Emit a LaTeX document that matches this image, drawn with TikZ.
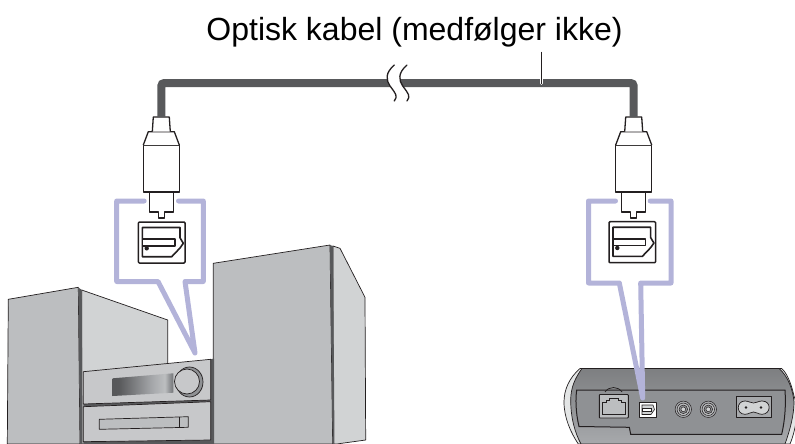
\documentclass[tikz,border=0pt]{standalone}
\usepackage{fontspec}
\setmainfont{Liberation Sans}
\definecolor{cabgrey}{HTML}{58595B}
\definecolor{callout}{HTML}{B3B3D9}
\definecolor{spkfront}{HTML}{BCBEC0}
\definecolor{spkside}{HTML}{D1D3D4}
\definecolor{ampface}{HTML}{C7C8CA}
\definecolor{inkk}{HTML}{231F20}
\definecolor{devbody}{HTML}{A7A9AC}
\definecolor{devpanel}{HTML}{8F9194}
\pgfdeclarehorizontalshading{displayshade}{100bp}{
  color(0bp)=(cabgrey!90!black); color(30bp)=(cabgrey); color(58bp)=(devbody); color(68bp)=(spkfront); color(72bp)=(devpanel); color(78bp)=(cabgrey); color(100bp)=(cabgrey)}
\tikzset{
  x=1pt,y=-1pt,
  ink/.style={draw=inkk,line width=1.3pt,line join=round},
  thin ink/.style={draw=inkk,line width=.7pt,line join=round},
  cable/.style={draw=cabgrey,line width=8pt,rounded corners=3pt},
  bubble/.style={draw=callout,line width=5pt,line join=round,line cap=round},
  captionstyle/.style={font=\fontsize{32}{34}\selectfont,text=black,inner sep=0pt,anchor=base},
  plugpic/.pic={
    \coordinate (-top) at (0,117);
    \path[ink,fill=white] (-12,192) -- (-12,212) -- (-3,212) -- (-3,218) -- (3,218) -- (3,212) -- (12,212) -- (12,192) -- cycle;
    \path[ink,fill=white] (-18,145) -- (-18,192) -- (18,192) -- (18,145) -- cycle;
    \path[ink,fill=white] (-18,145) -- (-13,131.7) -- (13,131.7) -- (18,145);
    \path[ink,fill=white] (-9,131.7) -- (-8,117) -- (8,117) -- (9,131.7);
  },
  portpic/.pic={
    \path[ink,line width=1.5pt,fill=white,rounded corners=1pt] (-23.3,-20.5) rectangle (23.3,20.5);
    \path[ink,line width=1.6pt] (-19.3,-15) -- (18.3,-15) -- (18.3,-4.7) -- (21.6,.8) -- (18.3,5.5) -- (10,14.2) -- (-19.3,14.2) -- cycle;
    \path[ink,line width=1.6pt,fill=white] (-19.3,-3.5) rectangle (13.3,3.2);
    \fill[inkk] (-15,5.8) circle (2.2);
  },
}
\begin{document}
\begin{tikzpicture}
\useasboundingbox (0,0) rectangle (795,444);
\clip (0,0) rectangle (795,444);

% caption and cable
\node[captionstyle] (caption) at (414.5,40.5) {Optisk kabel (medfølger ikke)};
\coordinate (kink) at (400,83);
\coordinate (leadtop) at (541.7,52.5);
\coordinate (leadend) at (541.7,83.5);

\coordinate (plugLpos) at (161.3,0);
\coordinate (plugRpos) at (633.7,0);
\pic (plugL) at (plugLpos) {plugpic};
\pic (plugR) at (plugRpos) {plugpic};
\draw[cable] (plugL-top) |- (kink) -| (plugR-top);
\draw[white,line width=2.8pt,line cap=round] (leadtop|-0,78) -- (leadend);
\draw[ink,line cap=round] (leadtop) -- (leadend);

% break mark
\fill[white] (394.3,65) .. controls (385,73) and (386,80) .. (390,86) .. controls (396,94) and (398,96) .. (394.3,101)
  -- (407,101) .. controls (410.7,96) and (408.7,94) .. (402.7,86) .. controls (398.7,80) and (397.7,73) .. (407,65) -- cycle;
\draw[ink,line cap=round] (394.3,65) .. controls (385,73) and (386,80) .. (390,86) .. controls (396,94) and (398,96) .. (394.3,101);
\draw[ink,line cap=round] (407,65) .. controls (397.7,73) and (398.7,80) .. (402.7,86) .. controls (408.7,94) and (410.7,96) .. (407,101);

% left speaker
\path[thin ink,fill=spkside] (81.7,290) -- (167.7,320) -- (167.7,368) -- (100,444) -- (81.7,444) -- cycle;
\path[thin ink,fill=spkfront] (8.3,299.3) -- (78.3,287.3) -- (80,444) -- (7.3,444) -- cycle;
\fill[cabgrey] (78.3,287.3) -- (81.7,290) -- (82.5,444) -- (80,444) -- cycle;

% right speaker
\path[thin ink,fill=spkside] (333,246) -- (340,248.3) -- (365,297.3) -- (365.7,440) -- (336.7,444) -- (333,444) -- cycle;
\path[thin ink,fill=spkfront] (213.3,263.3) -- (330,245) -- (332.7,444) -- (213.3,444) -- cycle;
\fill[cabgrey] (330,245) -- (333,246) -- (334.5,444) -- (332.7,444) -- cycle;

% amplifier
\fill[cabgrey] (210.7,359.3) -- (214,358.5) -- (214,444) -- (83.3,444) -- (83.3,404) -- cycle;
\path[thin ink,fill=ampface] (83.3,371.7) -- (210.7,359.3) -- (210.7,400) -- (83.3,404) -- cycle;
\path[thin ink,fill=ampface] (83.3,406.7) -- (210.7,401.7) -- (210.7,440) -- (83.3,441.7) -- cycle;
\path[shading=displayshade] (112.7,378.3) -- (173.3,373.3) -- (173.3,392.7) -- (112.7,396) -- cycle;
\path[thin ink,fill=devpanel] (189.5,382) ellipse [x radius=13.5,y radius=15];
\path[thin ink,fill=ampface] (187,381.5) circle (12.5);
\path[thin ink,fill=spkfront] (99.3,419.3) -- (188.3,416.7) -- (188.3,427.3) -- (99.3,429.3) -- cycle;
\draw[thin ink] (179.3,417) -- (179.3,427.5);

% device
\path[thin ink,fill=spkside!60!white] (580,368.5) .. controls (569,378) and (564,390) .. (564,402) .. controls (564,418) and (571,433) .. (578.3,444) -- (790,444) .. controls (795,432) and (800,410) .. (794,396) .. controls (791,382) and (786,372) .. (781.7,368.5) -- cycle;
\path[thin ink,top color=devbody!75!black,middle color=spkside,bottom color=devbody]
  (582,368.5) .. controls (575,378) and (570.7,388) .. (570.7,400) .. controls (570.7,418) and (575,433) .. (581,444) -- (785,444) .. controls (790,430) and (794,415) .. (794,402) .. controls (793,390) and (788,376) .. (779,368.5) -- cycle;
\path[draw=inkk,line width=1pt,fill=devpanel] (576.7,390) .. controls (575.5,398) and (575.5,412) .. (579,426.5) -- (629.3,427.3) -- (630.7,434.3) -- (781.7,434.3) .. controls (785,420) and (786,405) .. (785,390) -- cycle;

% ethernet port
\draw[thin ink] (605,392) .. controls (609,386) and (618,386) .. (622,392);
\path[draw=inkk,line width=.9pt,fill=spkfront,rounded corners=.8pt] (599.3,394.5) rectangle (628.3,418);
\draw[draw=inkk,line width=.6pt] (602.5,414.5) -- (602.5,402.5) -- (606,402.5) -- (606,399.8) -- (609,399.8) -- (609,397.8) -- (618.5,397.8) -- (618.5,399.8) -- (621.5,399.8) -- (621.5,402.5) -- (625,402.5) -- (625,414.5) -- cycle;

% optical port on device
\path[thin ink,fill=white] (639.3,402.3) rectangle (656.7,417.3);
\path[draw=inkk,line width=.6pt,fill=spkside] (642,405) -- (653,405) -- (654.5,409.5) -- (651,414.5) -- (642,414.5) -- cycle;
\path[draw=inkk,line width=.6pt,fill=white] (642,408.3) rectangle (651,411);

% RCA jacks
\foreach \nm/\cx in {rcaA/683.3,rcaB/708.3}{
  \path[draw=inkk,line width=.5pt,fill=devbody] (\cx,409.3) circle (8.2);
  \path[draw=inkk,line width=.5pt,fill=spkfront] (\cx,409.3) circle (6.2);
  \path[draw=inkk,line width=.5pt,fill=devpanel] (\cx,409.3) circle (4.3);
  \path[draw=inkk,line width=.5pt,fill=spkside] (\cx,409.3) circle (2.4);
}

% power inlet
\path[thin ink,fill=devbody] (736.7,396.7) rectangle (771,417.7);
\draw[thin ink,fill=spkside] (745,401) .. controls (749,401) and (750,403) .. (753.5,403) .. controls (757,403) and (758,401) .. (762,401) .. controls (772,401) and (771,414.3) .. (762,414.3) .. controls (758,414.3) and (757,412) .. (753.5,412) .. controls (750,412) and (749,414.3) .. (745,414.3) .. controls (736,414.3) and (736,401) .. (745,401) -- cycle;
\fill[inkk] (746,407.5) circle (1.3) (761,407.5) circle (1.3);

% callouts
\draw[bubble] (144.2,201) -- (116.7,201) -- (116.7,281.5) -- (158,281.5) -- (195,353) -- (185,281.5) -- (203.3,281.5) -- (203.3,201) -- (178.5,201);
\draw[bubble] (615.5,201) -- (588.5,201) -- (588.5,283) -- (619.3,283) -- (642.7,398) -- (640.7,283) -- (671,283) -- (671,201) -- (650.2,201);

% port symbols
\coordinate (portLpos) at (161.7,242.5);
\coordinate (portRpos) at (632.3,242.2);
\pic (portL) at (portLpos) {portpic};
\pic (portR) at (portRpos) {portpic};
\end{tikzpicture}
\end{document}
